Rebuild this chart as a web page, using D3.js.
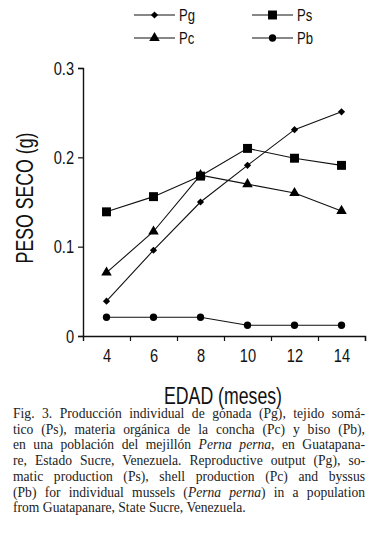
<!DOCTYPE html>
<html>
<head>
<meta charset="utf-8">
<script src="https://cdn.jsdelivr.net/npm/d3@7"></script>
<style>
  body { margin: 0; background: #fff; }
  #chart { width: 376px; height: 551px; }
  .narrow { font-family: "Liberation Sans", Arial, sans-serif; }
  .caption { font-family: "Liberation Serif", "DejaVu Serif", serif; font-size: 13.6px; fill: #222; }
</style>
</head>
<body>
<div id="chart"></div>
<script>
// Dry weight (g) by age (months)
const ages = [4, 6, 8, 10, 12, 14];
const pg = [0.039, 0.096, 0.150, 0.191, 0.231, 0.251];
const ps = [0.139, 0.156, 0.179, 0.210, 0.199, 0.191];
const pc = [0.071, 0.117, 0.180, 0.170, 0.160, 0.140];
const pb = [0.021, 0.021, 0.021, 0.012, 0.012, 0.012];
const yTicks = [0, 0.1, 0.2, 0.3];
const xTickMarks = [5, 7, 9, 11, 13, 15];

const captionLines = [
  [['Fig. 3. Producción individual de gónada (Pg), tejido somá-', false]],
  [['tico (Ps), materia orgánica de la concha (Pc) y biso (Pb),', false]],
  [['en una población del mejillón ', false], ['Perna perna', true], [', en Guatapana-', false]],
  [['re, Estado Sucre, Venezuela. Reproductive output (Pg), so-', false]],
  [['matic production (Ps), shell production (Pc) and byssus', false]],
  [['(Pb) for individual mussels (', false], ['Perna perna', true], [') in a population', false]],
  [['from Guatapanare, State Sucre, Venezuela.', false]]
];

const series = [
  { name: 'Pg', values: pg, shape: 'diamond' },
  { name: 'Ps', values: ps, shape: 'square' },
  { name: 'Pc', values: pc, shape: 'triangle' },
  { name: 'Pb', values: pb, shape: 'circle' }
];

const W = 376, H = 551;
const SX = 0.77; // horizontal squeeze to mimic a condensed face

const svg = d3.select('#chart').append('svg')
  .attr('width', W)
  .attr('height', H);

const x = d3.scaleLinear().domain([3, 15]).range([83, 365]);
const y = d3.scaleLinear().domain([0, 0.3]).range([336, 68]);

function marker(shape) {
  if (shape === 'diamond') return { d: d3.symbol(d3.symbolSquare, 26)(), rot: 45 };
  if (shape === 'square') return { d: d3.symbol(d3.symbolSquare, 80)(), rot: 0 };
  if (shape === 'triangle') return { d: d3.symbol(d3.symbolTriangle, 48)(), rot: 0 };
  return { d: d3.symbol(d3.symbolCircle, 42)(), rot: 0 };
}

// squeeze axis tick text horizontally, keeping its anchor point
function condenseTicks(g) {
  g.selectAll('.tick text').each(function () {
    const t = d3.select(this);
    const x0 = +(t.attr('x') || 0);
    t.attr('x', x0 / SX).attr('transform', `scale(${SX},1)`);
  });
}

// Axes
const yAxis = svg.append('g')
  .attr('class', 'narrow')
  .attr('transform', `translate(${x(3)},0)`)
  .call(d3.axisLeft(y).tickValues(yTicks).tickSize(5).tickPadding(4)
    .tickFormat(d => d === 0 ? '0' : d3.format('.1f')(d)));

const xAxis = svg.append('g')
  .attr('transform', `translate(0,${y(0)})`)
  .call(d3.axisBottom(x).tickValues(xTickMarks).tickSize(5).tickFormat(''));

const xLabels = svg.append('g')
  .attr('class', 'narrow')
  .attr('transform', `translate(0,${y(0)})`)
  .call(d3.axisBottom(x).tickValues(ages).tickSize(0).tickPadding(13));
xLabels.select('.domain').remove();

[yAxis, xAxis].forEach(g => {
  g.select('.domain').attr('stroke', '#111').attr('stroke-width', 1.4);
  g.selectAll('.tick line').attr('stroke', '#111').attr('stroke-width', 1.2);
});
svg.selectAll('.tick text')
  .attr('fill', '#111')
  .style('font-size', '19px');
condenseTicks(yAxis);
condenseTicks(xLabels);

// Axis titles
svg.append('text')
  .attr('class', 'narrow')
  .attr('transform', `translate(223,404) scale(${SX},1)`)
  .attr('text-anchor', 'middle')
  .style('font-size', '23px')
  .attr('fill', '#111')
  .text('EDAD (meses)');

svg.append('text')
  .attr('class', 'narrow')
  .attr('transform', `translate(33,198) rotate(-90) scale(${SX},1)`)
  .attr('text-anchor', 'middle')
  .style('font-size', '23px')
  .attr('fill', '#111')
  .text('PESO SECO (g)');

// Lines
const line = d3.line()
  .x((d, i) => x(ages[i]))
  .y(d => y(d));

svg.selectAll('path.series')
  .data(series)
  .join('path')
  .attr('class', 'series')
  .attr('d', d => line(d.values))
  .attr('fill', 'none')
  .attr('stroke', '#111')
  .attr('stroke-width', 1.1);

// Markers (Pc before Ps so the square covers the triangle at 8 months)
const drawOrder = [series[2], series[0], series[3], series[1]];
drawOrder.forEach(s => {
  const m = marker(s.shape);
  svg.append('g').selectAll('path')
    .data(s.values)
    .join('path')
    .attr('d', m.d)
    .attr('transform', (d, i) => `translate(${x(ages[i])},${y(d)}) rotate(${m.rot})`)
    .attr('fill', '#000');
});

// Legend
const legendItems = [
  { s: series[0], lx: 134, ly: 15 },
  { s: series[1], lx: 252, ly: 15 },
  { s: series[2], lx: 134, ly: 38 },
  { s: series[3], lx: 252, ly: 38 }
];
const legend = svg.append('g').attr('class', 'narrow');
legendItems.forEach(it => {
  const g = legend.append('g').attr('transform', `translate(${it.lx},${it.ly})`);
  g.append('line').attr('x1', 0).attr('x2', 41).attr('y1', 0).attr('y2', 0)
    .attr('stroke', '#111').attr('stroke-width', 1.1);
  const m = marker(it.s.shape);
  g.append('path').attr('d', m.d)
    .attr('transform', `translate(20.5,0) rotate(${m.rot})`).attr('fill', '#000');
  g.append('text')
    .attr('transform', `translate(45,6) scale(${SX},1)`)
    .style('font-size', '17px').attr('fill', '#111')
    .text(it.s.name);
});

// Caption, justified line by line
const capLeft = 13, capRight = 365, capTop = 418, capStep = 15.7;
captionLines.forEach((parts, i) => {
  const t = svg.append('text')
    .attr('class', 'caption')
    .attr('x', capLeft)
    .attr('y', capTop + i * capStep);
  parts.forEach(([str, it]) => {
    t.append('tspan').style('font-style', it ? 'italic' : 'normal').text(str);
  });
  if (i < captionLines.length - 1) {
    const len = t.node().getComputedTextLength();
    const spaces = parts.map(p => p[0]).join('').split(' ').length - 1;
    if (spaces > 0) t.attr('word-spacing', (capRight - capLeft - len) / spaces);
  }
});
</script>
</body>
</html>
